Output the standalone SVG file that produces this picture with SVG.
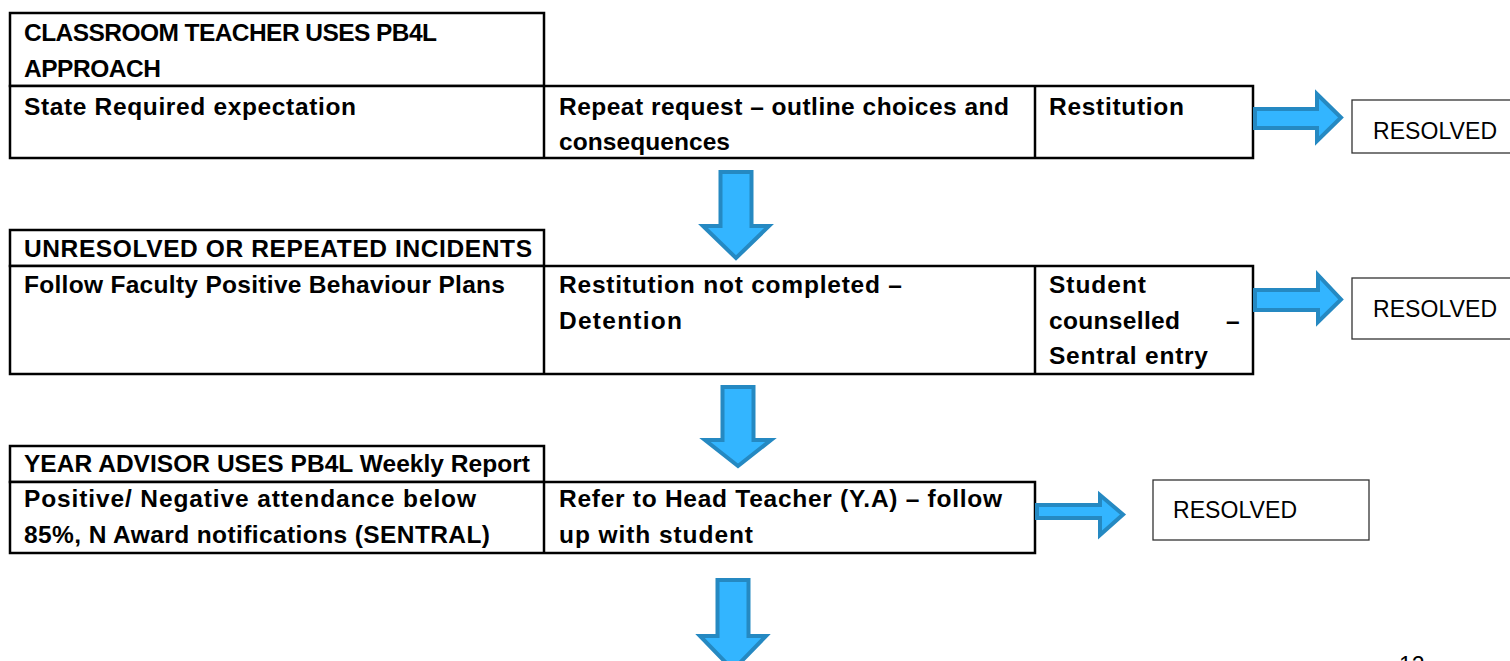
<svg xmlns="http://www.w3.org/2000/svg" width="1510" height="661" viewBox="0 0 1510 661">
<style>
.cell{fill:#fff;stroke:#000;stroke-width:2.5}
.div{stroke:#000;stroke-width:2.5}
.t{font-family:"Liberation Sans",Arial,sans-serif;font-weight:bold;font-size:24.5px;fill:#000}
.r{font-family:"Liberation Sans",Arial,sans-serif;font-size:23px;fill:#000}
.res{fill:#fff;stroke:#333;stroke-width:1.3}
.arrow{fill:#33B5FF;stroke:#2589C2;stroke-width:4;stroke-linejoin:miter}
</style>
<rect width="1510" height="661" fill="#fff"/>

<g id="table1">
  <g id="t1-header">
    <rect class="cell" x="10" y="13" width="534" height="73"/>
    <text class="t" x="24" y="41" textLength="413" lengthAdjust="spacing">CLASSROOM TEACHER USES PB4L</text>
    <text class="t" x="24" y="77" textLength="137" lengthAdjust="spacing">APPROACH</text>
  </g>
  <g id="t1-row">
    <rect class="cell" x="10" y="86" width="1243" height="72"/>
    <line class="div" x1="544" y1="86" x2="544" y2="158"/>
    <line class="div" x1="1035" y1="86" x2="1035" y2="158"/>
  </g>
  <g id="t1-c1"><text class="t" x="24" y="115" textLength="332" lengthAdjust="spacing">State Required expectation</text></g>
  <g id="t1-c2">
    <text class="t" x="559" y="115" textLength="450" lengthAdjust="spacing">Repeat request – outline choices and</text>
    <text class="t" x="559" y="150" textLength="171" lengthAdjust="spacing">consequences</text>
  </g>
  <g id="t1-c3"><text class="t" x="1049" y="115" textLength="135" lengthAdjust="spacing">Restitution</text></g>
</g>

<g id="resolved1">
  <rect class="res" x="1352" y="100" width="170" height="53"/>
  <text class="r" x="1373" y="139" textLength="124" lengthAdjust="spacing">RESOLVED</text>
</g>

<g id="table2">
  <g id="t2-header">
    <rect class="cell" x="10" y="230" width="534" height="36"/>
    <text class="t" x="24" y="257" textLength="508" lengthAdjust="spacing">UNRESOLVED OR REPEATED INCIDENTS</text>
  </g>
  <g id="t2-row">
    <rect class="cell" x="10" y="266" width="1243" height="108"/>
    <line class="div" x1="544" y1="266" x2="544" y2="374"/>
    <line class="div" x1="1035" y1="266" x2="1035" y2="374"/>
  </g>
  <g id="t2-c1"><text class="t" x="24" y="293" textLength="481" lengthAdjust="spacing">Follow Faculty Positive Behaviour Plans</text></g>
  <g id="t2-c2">
    <text class="t" x="559" y="293" textLength="343" lengthAdjust="spacing">Restitution not completed –</text>
    <text class="t" x="559" y="329" textLength="123" lengthAdjust="spacing">Detention</text>
  </g>
  <g id="t2-c3">
    <text class="t" x="1049" y="293" textLength="97" lengthAdjust="spacing">Student</text>
    <text class="t" y="329"><tspan x="1049" textLength="131" lengthAdjust="spacing">counselled</tspan><tspan x="1226">–</tspan></text>
    <text class="t" x="1049" y="364" textLength="159" lengthAdjust="spacing">Sentral entry</text>
  </g>
</g>

<g id="resolved2">
  <rect class="res" x="1352" y="278" width="170" height="61"/>
  <text class="r" x="1373" y="317" textLength="124" lengthAdjust="spacing">RESOLVED</text>
</g>

<g id="table3">
  <g id="t3-header">
    <rect class="cell" x="10" y="446" width="534" height="36"/>
    <text class="t" x="24" y="472" textLength="506" lengthAdjust="spacing">YEAR ADVISOR USES PB4L Weekly Report</text>
  </g>
  <g id="t3-row">
    <rect class="cell" x="10" y="482" width="1025" height="71"/>
    <line class="div" x1="544" y1="482" x2="544" y2="553"/>
  </g>
  <g id="t3-c1">
    <text class="t" x="24" y="507" textLength="452" lengthAdjust="spacing">Positive/ Negative attendance below</text>
    <text class="t" x="24" y="543" textLength="466" lengthAdjust="spacing">85%, N Award notifications (SENTRAL)</text>
  </g>
  <g id="t3-c2">
    <text class="t" x="559" y="507" textLength="443" lengthAdjust="spacing">Refer to Head Teacher (Y.A) – follow</text>
    <text class="t" x="559" y="543" textLength="194" lengthAdjust="spacing">up with student</text>
  </g>
</g>

<g id="resolved3">
  <rect class="res" x="1153" y="480" width="216" height="60"/>
  <text class="r" x="1173" y="518" textLength="124" lengthAdjust="spacing">RESOLVED</text>
</g>

<g id="connectors">
  <polygon class="arrow" points="1255,109 1317,109 1317,94 1341,117.5 1317,141 1317,128 1255,128"/>
  <polygon class="arrow" points="1255,290 1318,290 1318,275 1341,299.5 1318,322 1318,310 1255,310"/>
  <polygon class="arrow" points="1037,505 1100,505 1100,495 1123,514.5 1100,535 1100,518 1037,518"/>
  <polygon class="arrow" points="720.5,172 751.5,172 751.5,226 769,226 736,258 703,226 720.5,226"/>
  <polygon class="arrow" points="722.5,387 753.5,387 753.5,440 771,440 738,466 705,440 722.5,440"/>
  <polygon class="arrow" points="717.5,580 748.5,580 748.5,636 766,636 733,670 700,636 717.5,636"/>
</g>

<text class="r" x="1399" y="673">12</text>
</svg>
